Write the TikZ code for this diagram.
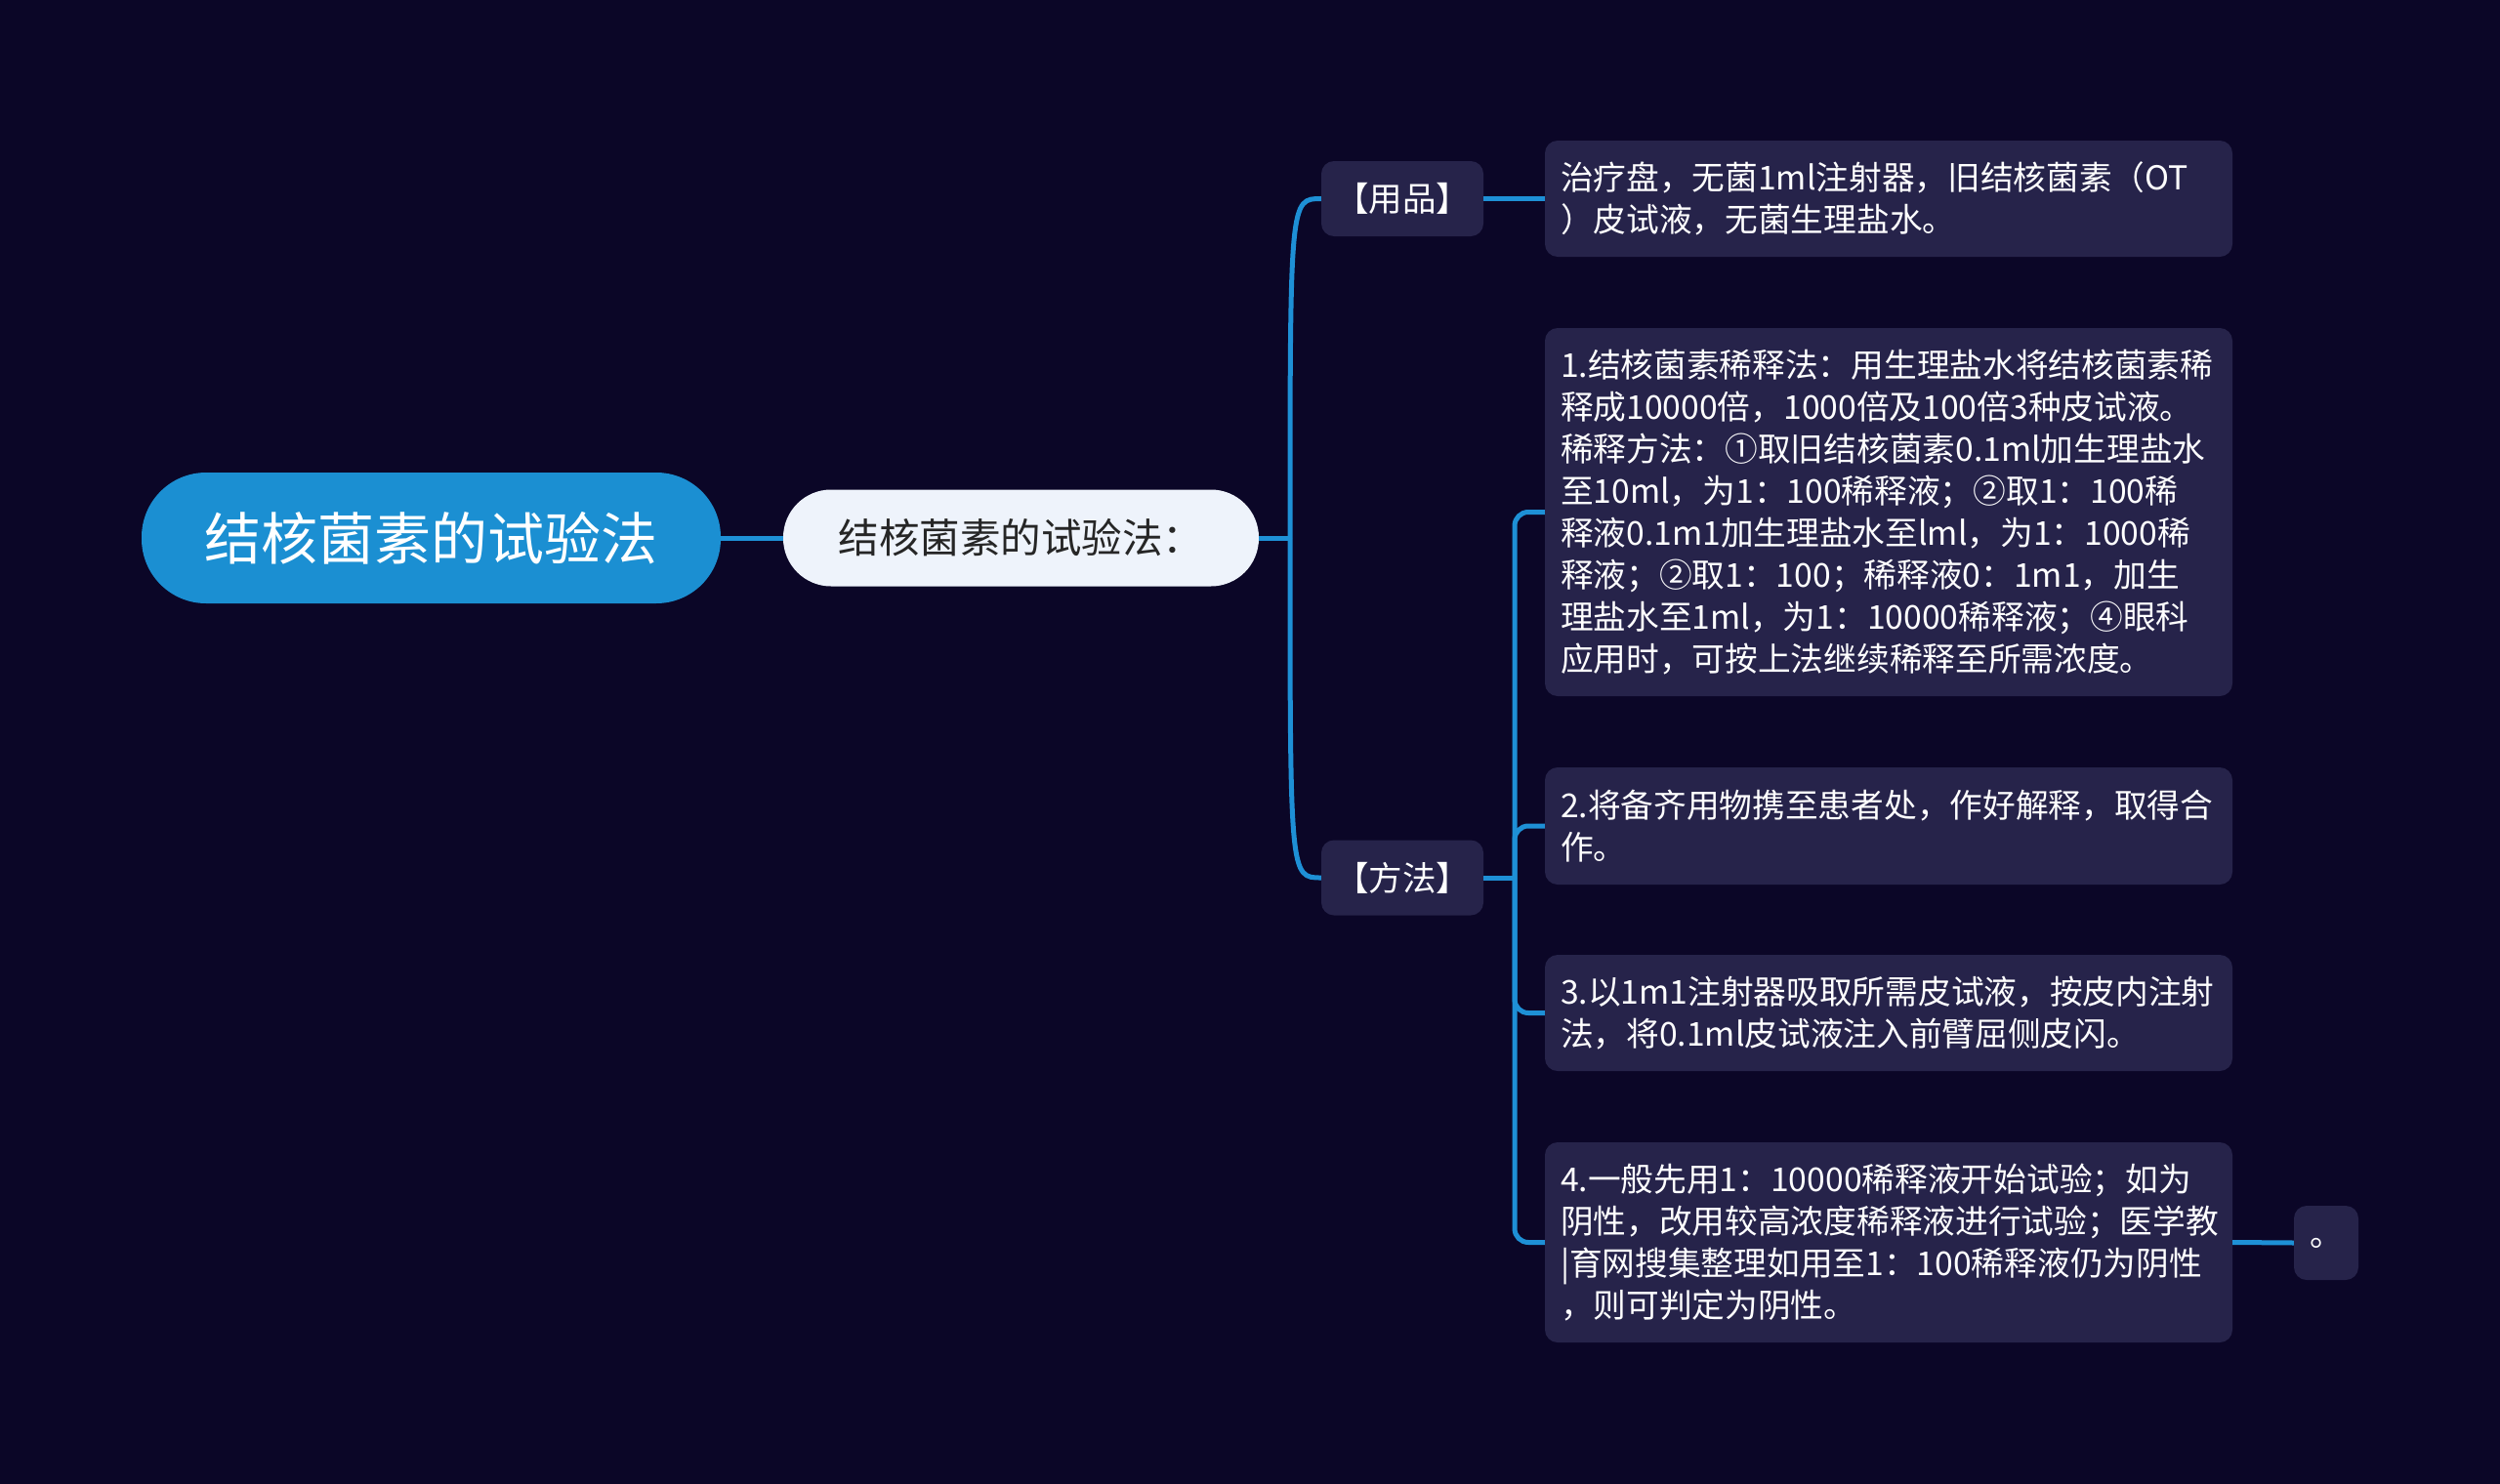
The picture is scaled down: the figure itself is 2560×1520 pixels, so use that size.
\documentclass[tikz,border=0pt]{standalone}
\usepackage{fontspec}
\setmainfont{Noto Sans CJK SC}
\definecolor{bg}{HTML}{0B0627}
\definecolor{rootblue}{HTML}{1B8FD2}
\definecolor{lineblue}{HTML}{1E90D6}
\definecolor{boxfill}{HTML}{26234A}
\definecolor{lightfill}{HTML}{EEF3FB}
\definecolor{darktext}{HTML}{262626}
\begin{document}
\begin{tikzpicture}[x=1pt,y=-1pt,
  rootnode/.style={fill=rootblue, text=white, rounded corners=66pt, minimum width=593pt, minimum height=134pt, inner sep=0pt, font=\fontsize{58}{68}\selectfont},
  subnode/.style={fill=lightfill, text=darktext, rounded corners=49pt, minimum width=487pt, minimum height=99pt, inner sep=0pt, font=\fontsize{41.5}{48}\selectfont},
  tagnode/.style={fill=boxfill, text=white, rounded corners=13pt, minimum width=166pt, minimum height=77pt, inner sep=0pt, font=\fontsize{34.5}{42}\selectfont},
  leafnode/.style={fill=boxfill, text=white, rounded corners=13pt, text width=672pt, inner xsep=16pt, inner ysep=8pt, align=left, font=\fontsize{33.7}{43}\selectfont},
  dotnode/.style={fill=boxfill, text=white, rounded corners=13pt, minimum width=66pt, minimum height=76pt, inner sep=0pt, font=\fontsize{33.7}{43}\selectfont},
  link/.style={draw=lineblue, line width=5pt},
]
\useasboundingbox (0,0) rectangle (2560,1520);
\fill[bg] (0,0) rectangle (2560,1520);

\node[rootnode] (root) at (441.5,551) {结核菌素的试验法};
\node[subnode] (sub) at (1045.5,551) {结核菌素的试验法：};
\node[tagnode] (yongpin) at (1436,203.5) {【用品】};
\node[tagnode] (fangfa) at (1436,899) {【方法】};

\node[leafnode, minimum height=119pt] (t0) at (1934,203.5) {治疗盘，无菌1ml注射器，旧结核菌素（OT\\）皮试液，无菌生理盐水。};
\node[leafnode, minimum height=377pt] (t1) at (1934,524.5) {1.结核菌素稀释法：用生理盐水将结核菌素稀\\释成10000倍，1000倍及100倍3种皮试液。\\稀释方法：①取旧结核菌素0.1ml加生理盐水\\至10ml，为1：100稀释液；②取1：100稀\\释液0.1m1加生理盐水至lml，为1：1000稀\\释液；②取1：100；稀释液0：1m1，加生\\理盐水至1ml，为1：10000稀释液；④眼科\\应用时，可按上法继续稀释至所需浓度。};
\node[leafnode, minimum height=120pt] (t2) at (1934,846) {2.将备齐用物携至患者处，作好解释，取得合\\作。};
\node[leafnode, minimum height=119pt] (t3) at (1934,1037.5) {3.以1m1注射器吸取所需皮试液，按皮内注射\\法，将0.1ml皮试液注入前臂屈侧皮闪。};
\node[leafnode, minimum height=205pt] (t4) at (1934,1272.5) {4.一般先用1：10000稀释液开始试验；如为\\阴性，改用较高浓度稀释液进行试验；医学教\\|育网搜集整理如用至1：100稀释液仍为阴性\\，则可判定为阴性。};
\node[dotnode] (dot) at (2382,1273) {。};

\coordinate (j1) at (1321,551);
\coordinate (j2) at (1551,899);

\draw[link] (root.east) -- (sub.west);
\draw[link] (sub.east) -- (j1);
\draw[link] (j1) .. controls (j1 |- yongpin.west) .. (yongpin.west);
\draw[link] (j1) .. controls (j1 |- fangfa.west) .. (fangfa.west);
\draw[link] (yongpin.east) -- (t0.west);
\draw[link] (fangfa.east) -- (j2);
\draw[link, rounded corners=14pt] (j2) |- (t1.west);
\draw[link, rounded corners=14pt] (j2) |- (t2.west);
\draw[link, rounded corners=14pt] (j2) |- (t3.west);
\draw[link, rounded corners=14pt] (j2) |- (t4.west);
\draw[link] (t4.east) -- (dot.west);
\end{tikzpicture}
\end{document}
